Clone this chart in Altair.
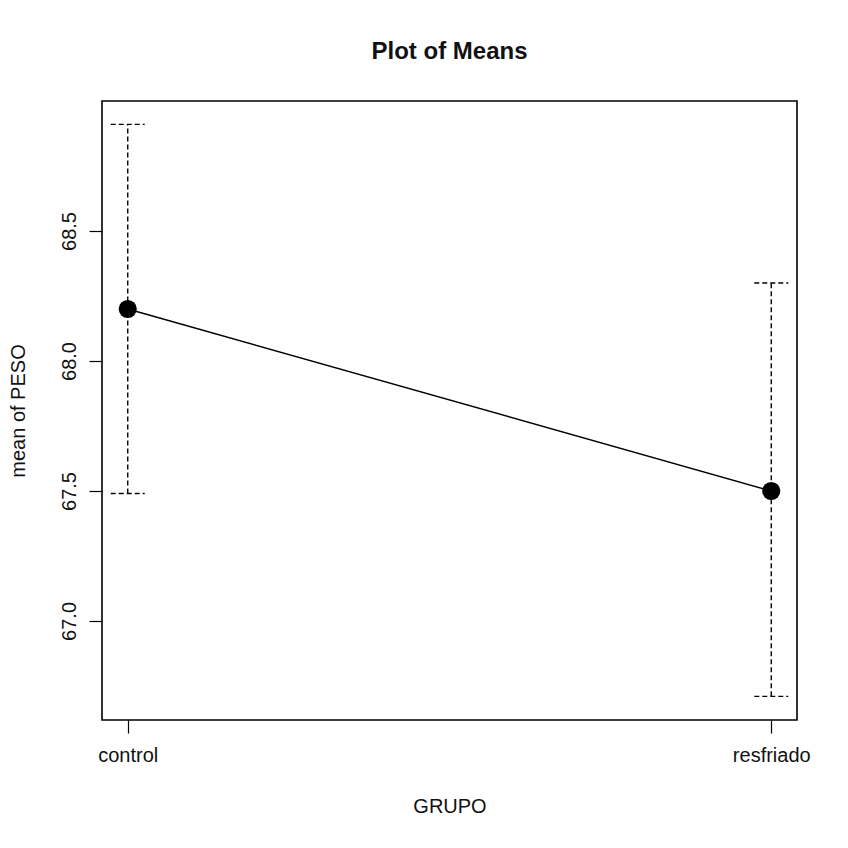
import altair as alt
import pandas as pd

groups = ["control", "resfriado"]
means = [68.2, 67.5]
lower = [67.49, 66.71]
upper = [68.91, 68.30]
y_ticks = [67.0, 67.5, 68.0, 68.5]

df = pd.DataFrame({"GRUPO": groups, "mean": means, "lo": lower, "hi": upper})

FONT = "Liberation Sans"
x_enc = alt.X("GRUPO:N", scale=alt.Scale(type="point", padding=0.04), sort=groups,
              axis=alt.Axis(title="GRUPO", labelAngle=0, domain=False, tickSize=13,
                            tickColor="black", tickWidth=1.2, labelFontSize=20,
                            labelColor="#111", labelPadding=12, labelFont=FONT,
                            titleFont=FONT, titleFontSize=20, titleFontWeight="normal",
                            titleColor="#111", titleBaseline="middle",
                            titleX=347.5, titleY=86))
y_scale = alt.Scale(domain=[66.619, 69.0], nice=False, zero=False)
y_axis = alt.Axis(title="mean of PESO", values=y_ticks, format=".1f", domain=False,
                  grid=False, tickSize=13, tickColor="black", tickWidth=1.2,
                  labelAngle=-90, labelAlign="center", labelBaseline="alphabetic",
                  labelPadding=14, labelFontSize=20, labelColor="#111", labelFont=FONT,
                  titleFont=FONT, titleFontSize=20, titleFontWeight="normal",
                  titleColor="#111", titleAngle=-90, titleBaseline="middle",
                  titleAlign="center", titleX=-84, titleY=309.5)

base = alt.Chart(df)
DASH = [5, 3]

line = base.mark_line(color="black", strokeWidth=1.5).encode(
    x=x_enc, y=alt.Y("mean:Q", scale=y_scale, axis=y_axis))
bars = base.mark_rule(color="black", strokeWidth=1.4, strokeDash=DASH).encode(
    x=x_enc, y=alt.Y("lo:Q", scale=y_scale, axis=y_axis), y2="hi:Q")
cap_hi = base.mark_rule(color="black", strokeWidth=1.4, strokeDash=DASH,
                        xOffset=-17, x2Offset=17).encode(
    x=x_enc, x2="GRUPO:N", y=alt.Y("hi:Q", scale=y_scale, axis=y_axis))
cap_lo = base.mark_rule(color="black", strokeWidth=1.4, strokeDash=DASH,
                        xOffset=-17, x2Offset=17).encode(
    x=x_enc, x2="GRUPO:N", y=alt.Y("lo:Q", scale=y_scale, axis=y_axis))
pts = base.mark_point(filled=True, color="black", size=330, opacity=1).encode(
    x=x_enc, y=alt.Y("mean:Q", scale=y_scale, axis=y_axis))

chart = alt.layer(bars, cap_hi, cap_lo, line, pts).properties(
    width=695, height=619,
    autosize=alt.AutoSizeParams(type="none"),
    padding={"left": 94, "top": 93, "right": 40, "bottom": 110},
    title=alt.TitleParams("Plot of Means", font=FONT, fontSize=24, fontWeight="bold",
                          color="#111", anchor="middle", offset=37),
).configure(background="white").configure_view(stroke="black", strokeWidth=1.6)

chart.save("out.html", embed_options={"renderer": "svg", "actions": False})
